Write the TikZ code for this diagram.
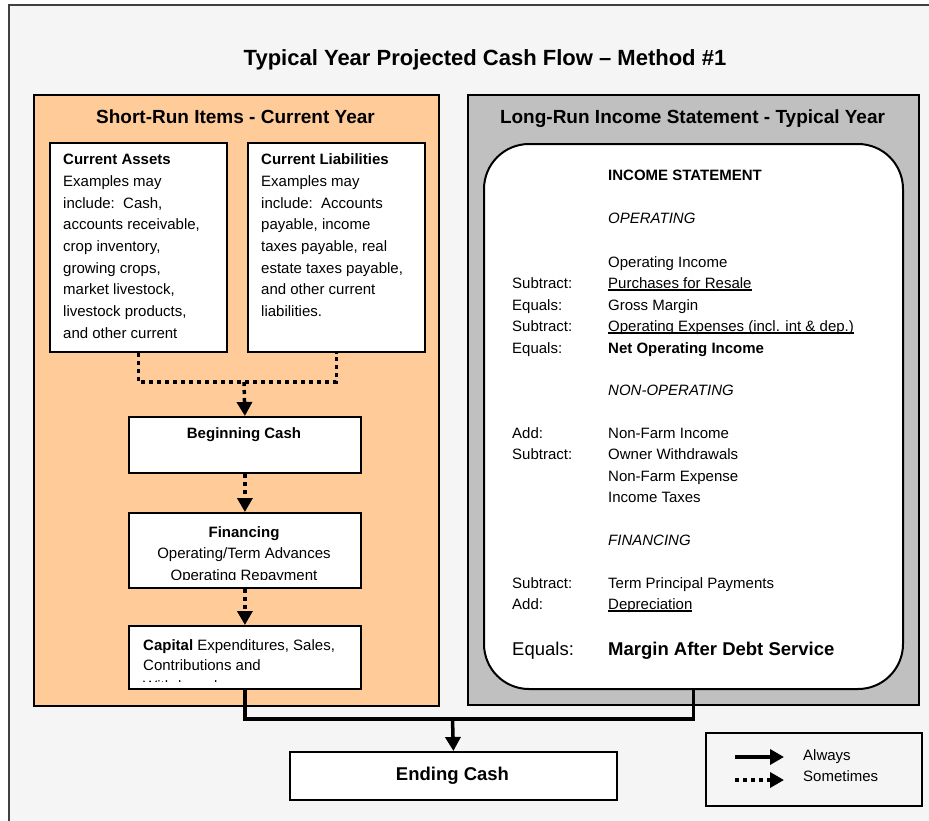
\documentclass[tikz,border=0pt]{standalone}
\usepackage{fontspec}
\setmainfont{Liberation Sans}
\usetikzlibrary{arrows.meta}

\definecolor{peach}{HTML}{FFCC99}
\definecolor{panelgray}{HTML}{C0C0C0}
\definecolor{framebg}{HTML}{F5F5F5}

% underline with a firmer rule than \underline
\newcommand{\isuline}[1]{\setbox0\hbox{#1}\rlap{\rule[-2.6pt]{\wd0}{1.3pt}}\box0}

\begin{document}
\begin{tikzpicture}[%
    x=1pt, y=-1pt,
    panel/.style={
        draw,
        line width=2pt,
        rectangle,
        anchor=north west,
        inner sep=0pt,
        },
    itembox/.style={
        draw,
        line width=1.8pt,
        fill=white,
        rectangle,
        anchor=north west,
        inner sep=0pt,
        },
    boxtext/.style={
        anchor=north west,
        inner sep=0pt,
        align=left,
        font=\fontsize{15}{21.7}\selectfont,
        },
    istext/.style={
        anchor=base west,
        inner sep=0pt,
        font=\fontsize{15}{18}\selectfont,
        },
    headtext/.style={
        anchor=base,
        inner sep=0pt,
        font=\fontsize{19}{22}\selectfont\bfseries,
        },
    tip/.style={-{Triangle[length=14pt,width=15pt]}},
    flowline/.style={line width=3.5pt, line join=miter},
    maybeline/.style={line width=3.5pt, dash pattern=on 4pt off 4pt, line join=miter},
]

\useasboundingbox (0,0) rectangle (929,820);
\fill[white] (0,0) rectangle (929,820);
\clip (0,0) rectangle (929,820);

% outer frame and title
\node[draw=black!75, fill=framebg, line width=1.5pt, anchor=north west,
      minimum width=950, minimum height=850, inner sep=0pt] (frame) at (8,4) {};
\node[anchor=base, inner sep=0pt, font=\fontsize{22}{26}\selectfont\bfseries]
    (title) at (485,65) {Typical Year Projected Cash Flow -- Method \#1};

% the two panels
\node[panel, fill=peach, minimum width=405, minimum height=611] (shortrun) at (33,94) {};
\node[panel, fill=panelgray, minimum width=451, minimum height=610] (longrun) at (467,94) {};
\node[headtext] (shorthead) at (235.5,123) {Short-Run Items - Current Year};
\node[headtext] (longhead) at (692.5,123) {Long-Run Income Statement - Typical Year};

% short-run items
\begin{scope}
    \node[itembox, minimum width=177, minimum height=209] (assets) at (49,142) {};
    \node[itembox, minimum width=177, minimum height=209] (liab) at (247,142) {};
    \node[boxtext] (assetstext) at (63,149.3) {\strut\textbf{Current Assets}\\
        Examples may\\ include:\ \ Cash,\\ accounts receivable,\\ crop inventory,\\
        growing crops,\\ market livestock,\\ livestock products,\\ and other current};
    \node[boxtext] (liabtext) at (261,149.3) {\strut\textbf{Current Liabilities}\\
        Examples may\\ include:\ \ Accounts\\ payable, income\\ taxes payable, real\\
        estate taxes payable,\\ and other current\\ liabilities.};

    \node[itembox, minimum width=232, minimum height=56] (begcash) at (128,416) {};
    \node[anchor=base, inner sep=0pt, font=\fontsize{15}{18}\selectfont\bfseries]
        (begtext) at (244,438.5) {Beginning Cash};

    \node[itembox, minimum width=232, minimum height=75] (financing) at (128,512) {};
    \begin{scope}
        \clip (128,512) rectangle (360,579);
        \node[anchor=north, inner sep=0pt, align=center, font=\fontsize{15}{21.5}\selectfont]
            (fintext) at (244,522) {\strut\textbf{Financing}\\ Operating/Term Advances\\
            Operating Repayment};
    \end{scope}

    \node[itembox, minimum width=232, minimum height=63] (capital) at (128,625) {};
    \begin{scope}
        \clip (128,625) rectangle (360,681);
        \node[boxtext, font=\fontsize{15}{20.6}\selectfont] (captext) at (143,635.6)
            {\strut\textbf{Capital} Expenditures, Sales,\\ Contributions and\\ Withdrawals};
    \end{scope}
\end{scope}

% long-run income statement
\node[draw, line width=2pt, fill=white, rounded corners=45pt, anchor=north west,
      minimum width=419, minimum height=545, inner sep=0pt] (income) at (483,143) {};
\begin{scope}
    \node[istext] (ishead) at (608,180) {\textbf{INCOME STATEMENT}};
    \node[istext] (isop) at (608,223) {\textit{OPERATING}};
    \node[istext] (opinc) at (608,267) {Operating Income};
    \node[istext] (lsub1) at (512,288) {Subtract:};
    \node[istext] (purch) at (608,288) {\isuline{Purchases for Resale}};
    \node[istext] (leq1) at (512,310) {Equals:};
    \node[istext] (gross) at (608,310) {Gross Margin};
    \node[istext] (lsub2) at (512,331) {Subtract:};
    \node[istext] (opexp) at (608,331) {\isuline{Operating Expenses (incl. int \& dep.)}};
    \node[istext] (leq2) at (512,353) {Equals:};
    \node[istext] (netop) at (608,353) {\textbf{Net Operating Income}};

    \node[istext] (isnonop) at (608,395) {\textit{NON-OPERATING}};
    \node[istext] (ladd1) at (512,438) {Add:};
    \node[istext] (nfinc) at (608,438) {Non-Farm Income};
    \node[istext] (lsub3) at (512,459) {Subtract:};
    \node[istext] (owner) at (608,459) {Owner Withdrawals};
    \node[istext] (nfexp) at (608,481) {Non-Farm Expense};
    \node[istext] (taxes) at (608,502) {Income Taxes};

    \node[istext] (isfin) at (608,545) {\textit{FINANCING}};
    \node[istext] (lsub4) at (512,588) {Subtract:};
    \node[istext] (termpay) at (608,588) {Term Principal Payments};
    \node[istext] (ladd2) at (512,609) {Add:};
    \node[istext] (deprec) at (608,609) {\isuline{Depreciation}};
    \node[istext, font=\fontsize{18.5}{22}\selectfont] (leq3) at (512,655) {Equals:};
    \node[istext, font=\fontsize{18.5}{22}\selectfont\bfseries] (mads) at (608,655)
        {Margin After Debt Service};
\end{scope}

% ending cash and legend
\node[itembox, minimum width=327, minimum height=48] (ending) at (289,751) {};
\node[anchor=base, inner sep=0pt, font=\fontsize{18.5}{22}\selectfont\bfseries]
    (endtext) at (452.5,780) {Ending Cash};

\node[draw, line width=1.8pt, fill=framebg, anchor=north west, inner sep=0pt,
      minimum width=216, minimum height=73] (legend) at (705,732) {};
\coordinate (solidA) at (735,757);
\coordinate (solidB) at (784,757);
\coordinate (dotA) at (735,780);
\coordinate (dotB) at (784,780);
\draw[flowline, tip] (solidA) -- (solidB);
\draw[maybeline, tip] (dotA) -- (dotB);
\node[anchor=base west, inner sep=0pt, font=\fontsize{15}{18}\selectfont] (always) at (803,760) {Always};
\node[anchor=base west, inner sep=0pt, font=\fontsize{15}{18}\selectfont] (sometimes) at (803,781) {Sometimes};

% connectors
\coordinate (topjoin) at (244,382);
\coordinate (endjoin) at (452.5,719);
\draw[maybeline] (assets.south) |- (topjoin) -| (liab.south);
\draw[maybeline, tip] (topjoin) -- (begcash.north);
\draw[maybeline, tip] (begcash.south) -- (financing.north);
\draw[maybeline, tip] (financing.south) -- (capital.north);
\draw[flowline] (capital.south) |- (endjoin) -| (income.south);
\draw[flowline, tip] (endjoin) -- (ending.north);

\end{tikzpicture}
\end{document}
